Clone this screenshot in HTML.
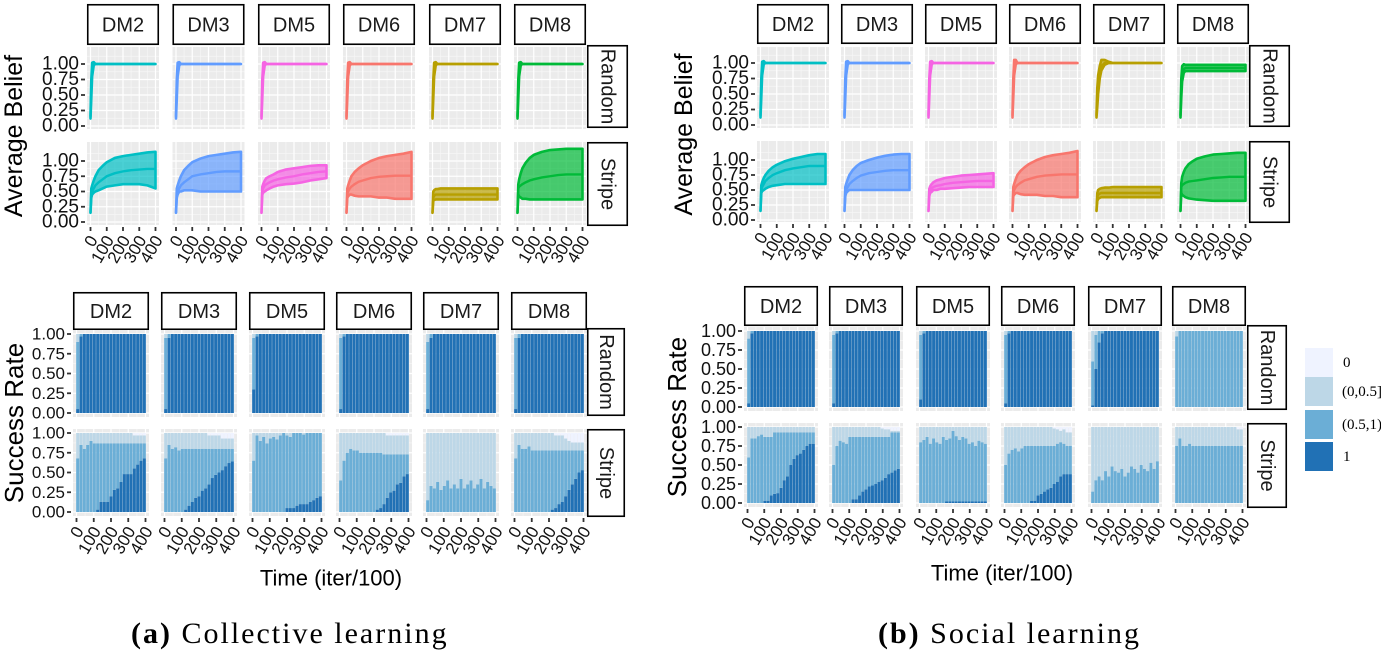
<!DOCTYPE html>
<html><head><meta charset="utf-8">
<style>
html,body{margin:0;padding:0;background:#fff;}
svg{display:block;}
text{font-family:"Liberation Sans",sans-serif;}
.serif{font-family:"Liberation Serif",serif;}
</style></head>
<body>
<svg id="fig" width="1381" height="653" viewBox="0 0 1381 653" xmlns="http://www.w3.org/2000/svg"></svg>
<script>
// ---------- DATA ----------
const dmNames = ["DM2","DM3","DM5","DM6","DM7","DM8"];
const rowNames = ["Random","Stripe"];
const dmColors = ["#00BFC4","#619CFF","#F564E3","#F8766D","#B79F00","#00BA38"];
const xTicks = [0,100,200,300,400];
const yTicks = [0,0.25,0.5,0.75,1];
const yTickLabels = ["0.00","0.25","0.50","0.75","1.00"];
const tB = [0,5,10,20,30,50,75,100,150,200,250,300,350,400];

// Collective learning - belief, Random row
const aRandMean = [0.15,0.6,0.9,1.0,1.0,1.0,1.0,1.0,1.0,1.0,1.0,1.0,1.0,1.0];
const aRandLo   = [0.12,0.45,0.8,0.98,1.0,1.0,1.0,1.0,1.0,1.0,1.0,1.0,1.0,1.0];
const aRandHi   = [0.18,0.75,1.02,1.03,1.0,1.0,1.0,1.0,1.0,1.0,1.0,1.0,1.0,1.0];
// Collective learning - belief, Stripe row
const aStrMean = [
 [0.15,0.45,0.5,0.55,0.6,0.65,0.7,0.75,0.8,0.83,0.85,0.86,0.87,0.87],
 [0.15,0.45,0.5,0.55,0.6,0.65,0.7,0.75,0.78,0.8,0.82,0.83,0.83,0.83],
 [0.15,0.5,0.55,0.6,0.62,0.65,0.68,0.7,0.73,0.75,0.78,0.8,0.82,0.83],
 [0.15,0.45,0.5,0.55,0.58,0.62,0.66,0.68,0.72,0.74,0.75,0.76,0.76,0.76],
 [0.15,0.4,0.43,0.45,0.45,0.45,0.45,0.45,0.45,0.45,0.45,0.45,0.45,0.45],
 [0.15,0.55,0.58,0.6,0.62,0.65,0.68,0.7,0.73,0.75,0.77,0.78,0.78,0.78]];
const aStrLo = [
 [0.15,0.4,0.45,0.48,0.5,0.52,0.55,0.58,0.6,0.62,0.62,0.62,0.6,0.55],
 [0.15,0.4,0.45,0.5,0.5,0.52,0.52,0.52,0.5,0.5,0.5,0.5,0.5,0.5],
 [0.15,0.45,0.48,0.5,0.52,0.55,0.58,0.6,0.62,0.63,0.65,0.68,0.7,0.72],
 [0.15,0.4,0.42,0.45,0.45,0.43,0.42,0.42,0.42,0.4,0.4,0.38,0.38,0.38],
 [0.15,0.35,0.36,0.37,0.37,0.37,0.37,0.37,0.37,0.37,0.37,0.37,0.37,0.37],
 [0.15,0.45,0.42,0.4,0.38,0.38,0.37,0.37,0.37,0.37,0.37,0.37,0.37,0.37]];
const aStrHi = [
 [0.15,0.55,0.6,0.68,0.75,0.85,0.92,0.98,1.05,1.08,1.1,1.12,1.14,1.15],
 [0.15,0.55,0.6,0.68,0.75,0.85,0.92,0.98,1.04,1.08,1.1,1.12,1.14,1.15],
 [0.15,0.58,0.62,0.68,0.72,0.75,0.78,0.82,0.86,0.88,0.9,0.92,0.93,0.93],
 [0.15,0.55,0.6,0.68,0.75,0.82,0.88,0.93,1.0,1.05,1.08,1.1,1.12,1.15],
 [0.15,0.5,0.52,0.54,0.54,0.55,0.55,0.55,0.55,0.55,0.55,0.55,0.55,0.55],
 [0.15,0.62,0.7,0.8,0.88,0.97,1.05,1.1,1.15,1.18,1.19,1.2,1.2,1.2]];

// Social learning - belief
const bRandMean = [
 [0.15,0.6,0.9,1.0,1.0,1.0,1.0,1.0,1.0,1.0,1.0,1.0,1.0,1.0],
 [0.15,0.6,0.9,1.0,1.0,1.0,1.0,1.0,1.0,1.0,1.0,1.0,1.0,1.0],
 [0.15,0.6,0.9,1.0,1.0,1.0,1.0,1.0,1.0,1.0,1.0,1.0,1.0,1.0],
 [0.15,0.6,0.9,1.0,1.0,1.0,1.0,1.0,1.0,1.0,1.0,1.0,1.0,1.0],
 [0.15,0.45,0.65,0.85,0.95,1.0,1.0,1.0,1.0,1.0,1.0,1.0,1.0,1.0],
 [0.15,0.6,0.8,0.9,0.92,0.92,0.92,0.92,0.92,0.92,0.92,0.92,0.92,0.92]];
const bRandLo = [
 [0.12,0.45,0.8,0.98,1.0,1.0,1.0,1.0,1.0,1.0,1.0,1.0,1.0,1.0],
 [0.12,0.45,0.8,0.98,1.0,1.0,1.0,1.0,1.0,1.0,1.0,1.0,1.0,1.0],
 [0.12,0.45,0.8,0.98,1.0,1.0,1.0,1.0,1.0,1.0,1.0,1.0,1.0,1.0],
 [0.12,0.45,0.8,0.98,1.0,1.0,1.0,1.0,1.0,1.0,1.0,1.0,1.0,1.0],
 [0.12,0.3,0.5,0.75,0.88,0.97,1.0,1.0,1.0,1.0,1.0,1.0,1.0,1.0],
 [0.12,0.45,0.7,0.84,0.87,0.87,0.87,0.87,0.87,0.87,0.87,0.87,0.87,0.87]];
const bRandHi = [
 [0.18,0.75,1.02,1.03,1.0,1.0,1.0,1.0,1.0,1.0,1.0,1.0,1.0,1.0],
 [0.18,0.75,1.02,1.03,1.0,1.0,1.0,1.0,1.0,1.0,1.0,1.0,1.0,1.0],
 [0.18,0.75,1.02,1.03,1.0,1.0,1.0,1.0,1.0,1.0,1.0,1.0,1.0,1.0],
 [0.18,0.75,1.05,1.05,1.0,1.0,1.0,1.0,1.0,1.0,1.0,1.0,1.0,1.0],
 [0.18,0.6,0.8,0.95,1.05,1.05,1.02,1.0,1.0,1.0,1.0,1.0,1.0,1.0],
 [0.18,0.75,0.95,0.98,0.97,0.97,0.97,0.97,0.97,0.97,0.97,0.97,0.97,0.97]];
const bStrMean = [
 [0.15,0.5,0.55,0.6,0.65,0.7,0.75,0.78,0.83,0.86,0.88,0.9,0.9,0.9],
 [0.15,0.45,0.5,0.55,0.6,0.65,0.7,0.74,0.78,0.8,0.82,0.83,0.83,0.83],
 [0.15,0.45,0.5,0.53,0.55,0.57,0.58,0.6,0.62,0.63,0.64,0.65,0.65,0.65],
 [0.15,0.45,0.5,0.55,0.58,0.62,0.66,0.68,0.72,0.74,0.75,0.76,0.76,0.76],
 [0.15,0.38,0.42,0.44,0.45,0.45,0.45,0.45,0.45,0.45,0.45,0.45,0.45,0.45],
 [0.15,0.55,0.58,0.6,0.62,0.64,0.65,0.66,0.68,0.7,0.71,0.72,0.72,0.72]];
const bStrLo = [
 [0.15,0.45,0.48,0.5,0.52,0.55,0.57,0.58,0.6,0.6,0.6,0.6,0.6,0.6],
 [0.15,0.4,0.45,0.48,0.5,0.5,0.5,0.5,0.5,0.5,0.5,0.5,0.5,0.5],
 [0.15,0.4,0.45,0.47,0.5,0.5,0.52,0.52,0.53,0.54,0.55,0.55,0.55,0.55],
 [0.15,0.4,0.42,0.45,0.45,0.43,0.42,0.42,0.42,0.4,0.4,0.38,0.38,0.38],
 [0.15,0.32,0.35,0.37,0.38,0.38,0.38,0.38,0.38,0.38,0.38,0.38,0.38,0.38],
 [0.15,0.45,0.42,0.4,0.38,0.36,0.35,0.34,0.33,0.32,0.32,0.32,0.32,0.32]];
const bStrHi = [
 [0.15,0.58,0.63,0.7,0.75,0.82,0.88,0.92,0.98,1.02,1.05,1.08,1.1,1.1],
 [0.15,0.55,0.6,0.68,0.75,0.83,0.9,0.95,1.0,1.04,1.07,1.09,1.1,1.1],
 [0.15,0.52,0.56,0.6,0.63,0.66,0.68,0.7,0.72,0.74,0.75,0.76,0.77,0.78],
 [0.15,0.55,0.6,0.68,0.75,0.82,0.88,0.93,1.0,1.05,1.08,1.1,1.12,1.15],
 [0.15,0.45,0.5,0.52,0.53,0.54,0.54,0.55,0.55,0.55,0.55,0.55,0.55,0.55],
 [0.15,0.62,0.72,0.8,0.86,0.93,0.98,1.02,1.06,1.09,1.1,1.11,1.12,1.12]];

// Success rate: bars at times tS; cumulative tops: c1 = share "1", c2 = "1"+"(0.5,1)", c3 = +"(0,0.5]"
const tS = [0,20,40,60,80,100,120,140,160,180,200,220,240,260,280,300,320,340,360,380,400];
const catLabels = ["0","(0,0.5]","(0.5,1)","1"];
const catColors = ["#eff3ff","#bdd7e7","#6baed6","#2171b5"];
const aRandC1 = [
 [0.05,0.97,1,1,1,1,1,1,1,1,1,1,1,1,1,1,1,1,1,1,1],
 [0.05,0.95,1,1,1,1,1,1,1,1,1,1,1,1,1,1,1,1,1,1,1],
 [0.3,0.97,1,1,1,1,1,1,1,1,1,1,1,1,1,1,1,1,1,1,1],
 [0.05,0.97,1,1,1,1,1,1,1,1,1,1,1,1,1,1,1,1,1,1,1],
 [0.05,0.95,1,1,1,1,1,1,1,1,1,1,1,1,1,1,1,1,1,1,1],
 [0.05,0.95,1,1,1,1,1,1,1,1,1,1,1,1,1,1,1,1,1,1,1]];
const aRandC2 = [
 [0.9,1,1,1,1,1,1,1,1,1,1,1,1,1,1,1,1,1,1,1,1],
 [0.95,1,1,1,1,1,1,1,1,1,1,1,1,1,1,1,1,1,1,1,1],
 [0.95,1,1,1,1,1,1,1,1,1,1,1,1,1,1,1,1,1,1,1,1],
 [0.95,1,1,1,1,1,1,1,1,1,1,1,1,1,1,1,1,1,1,1,1],
 [0.9,1,1,1,1,1,1,1,1,1,1,1,1,1,1,1,1,1,1,1,1],
 [0.95,1,1,1,1,1,1,1,1,1,1,1,1,1,1,1,1,1,1,1,1]];
const aStrC1 = [
 [0,0,0,0,0,0,0.03,0.13,0.13,0.13,0.2,0.28,0.3,0.38,0.48,0.48,0.48,0.55,0.6,0.65,0.68],
 [0,0,0,0,0,0,0.03,0.08,0.13,0.18,0.2,0.27,0.3,0.35,0.43,0.47,0.5,0.53,0.58,0.62,0.64],
 [0,0,0,0,0,0,0,0,0,0,0.05,0.05,0.05,0.08,0.1,0.1,0.1,0.13,0.15,0.18,0.2],
 [0,0,0,0,0,0,0,0,0,0,0,0.03,0.05,0.1,0.18,0.25,0.27,0.35,0.37,0.45,0.48],
 [0,0,0,0,0,0,0,0,0,0,0,0,0,0,0,0,0,0,0,0,0],
 [0,0,0,0,0,0,0,0,0,0,0,0.03,0.05,0.1,0.13,0.2,0.28,0.35,0.42,0.5,0.53]];
const aStrC2 = [
 [0.68,0.85,0.8,0.85,0.9,0.87,0.87,0.87,0.87,0.87,0.87,0.87,0.87,0.87,0.87,0.87,0.87,0.87,0.87,0.87,0.87],
 [0.68,0.85,0.8,0.82,0.78,0.8,0.8,0.8,0.8,0.8,0.8,0.8,0.8,0.8,0.8,0.8,0.8,0.8,0.8,0.8,0.8],
 [0.65,0.97,0.9,0.95,0.87,0.93,0.95,0.92,0.97,1,0.97,0.95,1,1,1,0.98,1,1,1,1,1],
 [0.4,0.65,0.75,0.8,0.78,0.78,0.75,0.75,0.75,0.75,0.75,0.75,0.75,0.73,0.73,0.73,0.73,0.73,0.73,0.73,0.73],
 [0.15,0.33,0.3,0.38,0.28,0.33,0.4,0.3,0.35,0.3,0.42,0.3,0.35,0.4,0.3,0.35,0.42,0.3,0.38,0.33,0.3],
 [0.68,0.85,0.8,0.8,0.83,0.78,0.78,0.78,0.78,0.78,0.78,0.78,0.78,0.78,0.78,0.78,0.78,0.78,0.78,0.78,0.78]];
const aStrC3 = [
 [1,1,1,1,1,1,1,1,1,1,1,1,1,1,1,1,1,0.97,0.97,0.97,0.97],
 [1,1,1,1,1,1,1,1,1,1,1,1,1,0.97,0.97,0.97,0.97,0.93,0.93,0.93,0.93],
 [1,1,1,1,1,1,1,1,1,1,1,1,1,1,1,1,1,1,1,1,1],
 [1,1,1,1,1,1,1,1,1,1,1,1,1,1,0.97,0.97,0.97,0.97,0.97,0.97,0.97],
 [1,1,1,1,1,1,1,1,1,1,1,1,1,1,1,1,1,1,1,1,1],
 [1,1,1,1,1,1,1,1,1,1,1,1,0.97,0.97,0.97,0.93,0.9,0.88,0.88,0.88,0.88]];
const bRandC1 = [
 [0.05,0.97,1,1,1,1,1,1,1,1,1,1,1,1,1,1,1,1,1,1,1],
 [0.05,0.97,1,1,1,1,1,1,1,1,1,1,1,1,1,1,1,1,1,1,1],
 [0.1,0.97,1,1,1,1,1,1,1,1,1,1,1,1,1,1,1,1,1,1,1],
 [0.05,0.97,1,1,1,1,1,1,1,1,1,1,1,1,1,1,1,1,1,1,1],
 [0.02,0.5,0.85,0.97,1,1,1,1,1,1,1,1,1,1,1,1,1,1,1,1,1],
 [0,0,0,0,0,0,0,0,0,0,0,0,0,0,0,0,0,0,0,0,0]];
const bRandC2 = [
 [0.9,1,1,1,1,1,1,1,1,1,1,1,1,1,1,1,1,1,1,1,1],
 [0.95,1,1,1,1,1,1,1,1,1,1,1,1,1,1,1,1,1,1,1,1],
 [0.95,1,1,1,1,1,1,1,1,1,1,1,1,1,1,1,1,1,1,1,1],
 [0.95,1,1,1,1,1,1,1,1,1,1,1,1,1,1,1,1,1,1,1,1],
 [0.6,0.95,1,1,1,1,1,1,1,1,1,1,1,1,1,1,1,1,1,1,1],
 [0.93,1,1,1,1,1,1,1,1,1,1,1,1,1,1,1,1,1,1,1,1]];
const bStrC1 = [
 [0,0,0,0,0,0.03,0.03,0.1,0.12,0.13,0.2,0.3,0.35,0.5,0.58,0.63,0.65,0.7,0.75,0.78,0.78],
 [0,0,0,0,0,0,0.05,0.05,0.1,0.15,0.18,0.22,0.23,0.25,0.28,0.3,0.33,0.38,0.4,0.43,0.45],
 [0,0,0,0,0,0,0,0,0.02,0.02,0.02,0.02,0.02,0.02,0.02,0.02,0.02,0.02,0.02,0.02,0.02],
 [0,0,0,0,0,0,0,0,0.03,0.03,0.1,0.12,0.15,0.18,0.2,0.25,0.28,0.35,0.38,0.38,0.38],
 [0,0,0,0,0,0,0,0,0,0,0,0,0,0,0,0,0,0,0,0,0],
 [0,0,0,0,0,0,0,0,0,0,0,0,0,0,0,0,0,0,0,0,0]];
const bStrC2 = [
 [0.6,0.85,0.85,0.88,0.9,0.87,0.87,0.87,0.93,0.93,0.93,0.93,0.93,0.93,0.93,0.93,0.93,0.93,0.93,0.93,0.93],
 [0.5,0.75,0.82,0.8,0.78,0.87,0.87,0.87,0.87,0.87,0.87,0.87,0.87,0.87,0.87,0.87,0.87,0.87,0.93,0.93,0.93],
 [0.8,0.83,0.87,0.78,0.85,0.8,0.78,0.87,0.83,0.85,0.95,0.88,0.83,0.87,0.85,0.78,0.8,0.75,0.82,0.8,0.78],
 [0.5,0.65,0.7,0.72,0.68,0.72,0.75,0.75,0.75,0.75,0.75,0.75,0.75,0.75,0.75,0.75,0.78,0.8,0.78,0.75,0.75],
 [0.15,0.3,0.35,0.3,0.42,0.35,0.48,0.42,0.4,0.45,0.35,0.4,0.48,0.45,0.4,0.5,0.45,0.42,0.53,0.45,0.55],
 [0.75,0.85,0.75,0.75,0.78,0.75,0.75,0.75,0.75,0.75,0.75,0.75,0.75,0.75,0.75,0.75,0.75,0.75,0.75,0.75,0.75]];
const bStrC3 = [
 [1,1,1,1,1,1,1,1,1,1,1,1,1,1,1,1,1,1,1,1,1],
 [1,1,1,1,1,1,1,1,1,1,1,1,1,1,1,0.98,0.97,0.97,0.95,0.95,0.95],
 [1,1,1,1,1,1,1,1,1,1,1,1,1,1,1,1,1,1,1,1,1],
 [1,1,1,1,1,1,1,1,1,1,1,1,1,1,1,0.98,0.97,0.95,0.97,0.93,0.93],
 [1,1,1,1,1,1,1,1,1,1,1,1,1,1,1,1,1,1,1,1,1],
 [1,1,1,1,1,1,1,1,1,1,1,1,1,1,1,1,1,1,1,0.97,0.97]];

// ---------- DRAWING ----------
const NS = "http://www.w3.org/2000/svg";
const svg = document.getElementById("fig");
function mk(tag, attrs, parent){
  const e = document.createElementNS(NS, tag);
  for (const k in attrs) e.setAttribute(k, attrs[k]);
  (parent||svg).appendChild(e);
  return e;
}
function txt(s, attrs, parent){ const e = mk("text", attrs, parent); e.textContent = s; return e; }

const layouts = [
 {kind:"belief", set:"a", lefts:[87,172.5,258,343,429,514], w:72, strip:{y:4,h:41}, rx:587, rw:41,
  rows:[{top:47,h:82,y1:64,y0:126},{top:142,h:83,y1:161,y0:222}], titleX:14, title:"Average Belief", fs:19},
 {kind:"belief", set:"b", lefts:[757,841,925,1009,1093,1177], w:72, strip:{y:4,h:40}, rx:1249, rw:41,
  rows:[{top:47,h:81,y1:63,y0:125},{top:141,h:81,y1:160,y0:220}], titleX:684, title:"Average Belief", fs:19},
 {kind:"success", set:"a", lefts:[73,161,249,336,423,511], w:76, strip:{y:292,h:38}, rx:587, rw:38,
  rows:[{top:330,h:87,y1:334,y0:413},{top:429,h:87,y1:433,y0:512}], titleX:14, title:"Success Rate", fs:17},
 {kind:"success", set:"b", lefts:[744,829,916,1001,1088,1172], w:74, strip:{y:286,h:40}, rx:1247, rw:40,
  rows:[{top:327,h:84,y1:331,y0:407},{top:423,h:84,y1:427,y0:503}], titleX:677, title:"Success Rate", fs:18}
];

layouts.forEach((L, li) => {
  const g = mk("g", {});
  
  
  const r0 = L.rows[0], r1 = L.rows[1];
  const cy = (r0.top + r1.top + r1.h) / 2;
  const yt = txt(L.title, {x:L.titleX, y:cy, "font-size":L.kind==="belief"?25:26, "text-anchor":"middle",
    "dominant-baseline":"central", transform:`rotate(-90 ${L.titleX} ${cy})`, fill:"#000"}, g);
  
  

  L.lefts.forEach((left, ci) => {
    const w = L.w;
    const sb = mk("rect", {x:left+0.75, y:L.strip.y+0.75, width:w-1.5, height:L.strip.h-1.5, fill:"#fff", stroke:"#000", "stroke-width":1.6}, g);
    
    
    const st = txt(dmNames[ci], {x:left+w/2, y:L.strip.y+L.strip.h/2+1, "font-size":20, "text-anchor":"middle", "dominant-baseline":"central", fill:"#1a1a1a"}, g);
    
    

    const xMap = t => left + 3.5 + t/400*(w-7);
    L.rows.forEach((R, ri) => {
      const yMap = v => R.y0 + v*(R.y1 - R.y0);
      const pg = mk("g", {}, g);
      
      
      mk("rect", {x:left, y:R.top, width:w, height:R.h, fill:"#ebebeb"}, pg);
      for (let t=50; t<=350; t+=100) mk("line", {x1:xMap(t), x2:xMap(t), y1:R.top, y2:R.top+R.h, stroke:"#f6f6f6", "stroke-width":0.7}, pg);
      for (let v=0.125; v<1.2; v+=0.25) if (yMap(v)>R.top) mk("line", {x1:left, x2:left+w, y1:yMap(v), y2:yMap(v), stroke:"#f6f6f6", "stroke-width":0.7}, pg);
      xTicks.forEach(t => mk("line", {x1:xMap(t), x2:xMap(t), y1:R.top, y2:R.top+R.h, stroke:"#fff", "stroke-width":1.2}, pg));
      yTicks.forEach(v => mk("line", {x1:left, x2:left+w, y1:yMap(v), y2:yMap(v), stroke:"#fff", "stroke-width":1.2}, pg));

      if (L.kind === "belief") {
        let mean, lo, hi;
        if (L.set === "a") {
          if (ri===0) { mean=aRandMean; lo=aRandLo; hi=aRandHi; }
          else { mean=aStrMean[ci]; lo=aStrLo[ci]; hi=aStrHi[ci]; }
        } else {
          if (ri===0) { mean=bRandMean[ci]; lo=bRandLo[ci]; hi=bRandHi[ci]; }
          else { mean=bStrMean[ci]; lo=bStrLo[ci]; hi=bStrHi[ci]; }
        }
        const col = dmColors[ci];
        let d = "";
        tB.forEach((t,i)=>{ d += (i?"L":"M") + xMap(t).toFixed(2) + "," + yMap(hi[i]).toFixed(2); });
        for (let i=tB.length-1;i>=0;i--) d += "L" + xMap(tB[i]).toFixed(2) + "," + yMap(lo[i]).toFixed(2);
        d += "Z";
        const band = mk("path", {d:d, fill:col, "fill-opacity":0.7, stroke:col, "stroke-width":2.6, "stroke-linejoin":"round"}, pg);
        
        
        let dm = "";
        tB.forEach((t,i)=>{ dm += (i?"L":"M") + xMap(t).toFixed(2) + "," + yMap(mean[i]).toFixed(2); });
        const ml = mk("path", {d:dm, fill:"none", stroke:col, "stroke-width":2.4}, pg);
        
        
      } else {
        let c1, c2, c3;
        if (L.set === "a") {
          if (ri===0) { c1=aRandC1[ci]; c2=aRandC2[ci]; c3=null; }
          else { c1=aStrC1[ci]; c2=aStrC2[ci]; c3=aStrC3[ci]; }
        } else {
          if (ri===0) { c1=bRandC1[ci]; c2=bRandC2[ci]; c3=null; }
          else { c1=bStrC1[ci]; c2=bStrC2[ci]; c3=bStrC3[ci]; }
        }
        const bx = t => left + 3 + (t+10)/420*(w-6);
        tS.forEach((t,i)=>{
          const xl = bx(t-10) + 0.15, xr = bx(t+10) - 0.15;
          const v3 = c3 ? c3[i] : 1;
          const segs = [[0,c1[i],3],[c1[i],c2[i],2],[c2[i],v3,1],[v3,1,0]];
          segs.forEach(s=>{
            if (s[1] > s[0]) {
              const r = mk("rect", {x:xl, y:yMap(s[1]), width:xr-xl, height:yMap(s[0])-yMap(s[1]), fill:catColors[s[2]]}, pg);
              
              
            }
          });
        });
      }
      if (ci===0) {
        yTicks.forEach((v,k)=>{
          mk("line", {x1:left-6, x2:left-2, y1:yMap(v), y2:yMap(v), stroke:"#333", "stroke-width":1.8}, g);
          const tl = txt(yTickLabels[k], {x:left-8, y:yMap(v), "font-size":L.fs, "text-anchor":"end", "dominant-baseline":"central", fill:"#111"}, g);
          
          
        });
      }
    });
    const bot = r1.top + r1.h;
    xTicks.forEach(t=>{
      mk("line", {x1:xMap(t), x2:xMap(t), y1:bot+2, y2:bot+6, stroke:"#333", "stroke-width":1.8}, g);
      const xl = txt(String(t), {x:xMap(t)+3, y:bot+12, "font-size":17, "text-anchor":"end", "dominant-baseline":"central",
        transform:`rotate(-60 ${xMap(t)+3} ${bot+12})`, fill:"#111"}, g);
      
      
    });
  });
  L.rows.forEach((R, ri)=>{
    const top = ri===0 ? R.top-2 : R.top;
    const hh = R.h + 1;
    const rb = mk("rect", {x:L.rx+0.75, y:top+0.75, width:L.rw-1.5, height:hh-1.5, fill:"#fff", stroke:"#000", "stroke-width":1.6}, g);
    
    
    const cx = L.rx + L.rw/2, cy2 = top + hh/2;
    const rt = txt(rowNames[ri], {x:cx, y:cy2, "font-size":20, "text-anchor":"middle", "dominant-baseline":"central",
      transform:`rotate(90 ${cx} ${cy2})`, fill:"#1a1a1a"}, g);
    
    
  });
});

[[331,578],[1002,573]].forEach(p=>{
  const t = txt("Time (iter/100)", {x:p[0], y:p[1], "font-size":22, "text-anchor":"middle", "dominant-baseline":"central", fill:"#000"});
  
  
});

const lg = mk("g", {});


const legY = [348,377,410,442];
catLabels.forEach((c,i)=>{
  const r = mk("rect", {x:1305, y:legY[i], width:28, height:29, fill:catColors[i]}, lg);
  
  
  const t = txt(c, {x:1343 + (i===0||i===3?0:-1), y:legY[i]+15, "font-size":15, "dominant-baseline":"central", fill:"#000", "class":"serif"}, lg);
  
  
});

[[131,"(a)","Collective learning"],[878,"(b)","Social learning"]].forEach(c=>{
  const t = mk("text", {x:c[0], y:643, "font-size":30, "letter-spacing":"2", fill:"#000", "class":"serif"});
  
  
  const b = document.createElementNS(NS,"tspan"); b.setAttribute("font-weight","bold"); b.textContent = c[1] + " ";
  const n = document.createElementNS(NS,"tspan"); n.textContent = c[2];
  t.appendChild(b); t.appendChild(n);
});
</script>
</body></html>
